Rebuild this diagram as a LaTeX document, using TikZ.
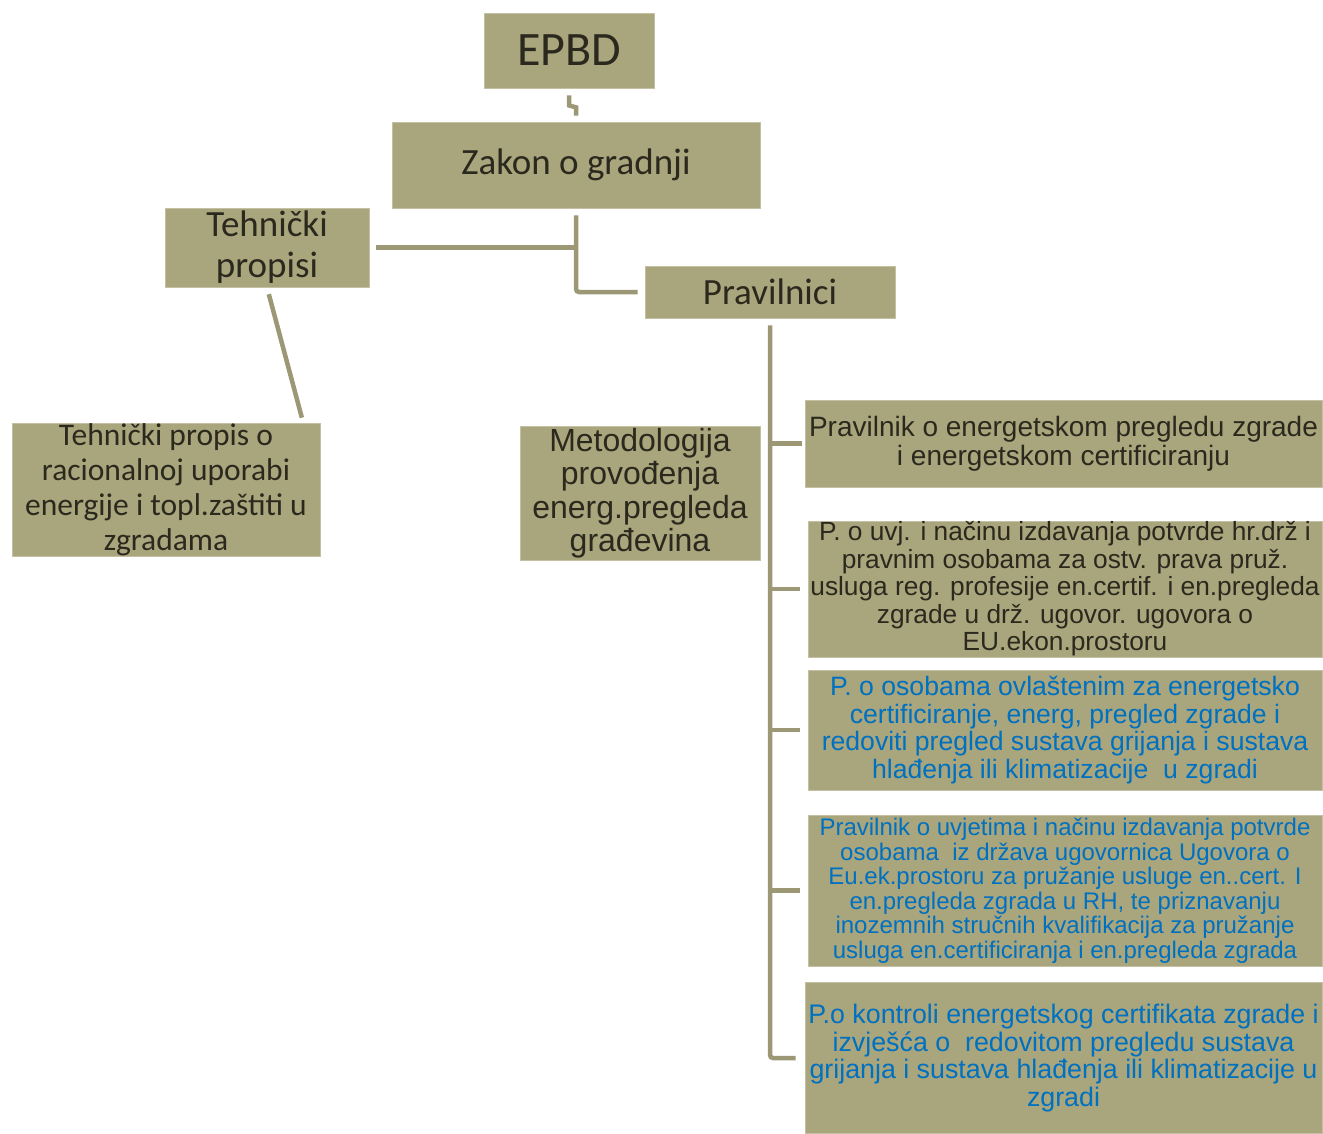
\documentclass[tikz,border=0pt]{standalone}
\usepackage{fontspec}
\setmainfont{Carlito}
\newfontfamily\arialf{Liberation Sans}
\usetikzlibrary{calc}
\definecolor{boxfill}{HTML}{A9A57C}
\definecolor{connc}{HTML}{9C9775}
\definecolor{darktxt}{HTML}{2B291E}
\definecolor{bluetxt}{HTML}{0070C0}
\begin{document}
\begin{tikzpicture}[x=1pt,y=-1pt,
  box/.style={fill=boxfill, draw=boxfill!70!white, line width=0.8pt, inner sep=0pt, align=center, text=darktxt},
  conn/.style={draw=connc, line width=4.5pt}
]
\useasboundingbox (0,0) rectangle (1323,1134);
\node[box, minimum width=170, minimum height=75, font=\fontsize{48}{52}\selectfont] (epbd) at (569,50.5) {EPBD};
\node[box, minimum width=368, minimum height=86, font=\fontsize{37}{40}\selectfont] (zakon) at (576,165) {Zakon o gradnji};
\node[box, minimum width=204, minimum height=79, font=\fontsize{37}{41}\selectfont] (tp) at (267,247.5) {Tehnički\\propisi};
\node[box, minimum width=250, minimum height=52, font=\fontsize{37}{40}\selectfont] (prav) at (770,292) {Pravilnici};
\node[box, minimum width=308, minimum height=128, font=\fontsize{31.5}{35}\selectfont] (tpo) at (166,490)
  {Tehnički propis o\\racionalnoj uporabi\\energije i topl.zaštiti u\\zgradama};
\node[box, minimum width=240, minimum height=134, font=\arialf\fontsize{32}{33.5}\selectfont] (met) at (640,493)
  {Metodologija\\provođenja\\energ.pregleda\\građevina};
\node[box, minimum width=517, minimum height=87, font=\arialf\fontsize{28}{29}\selectfont] (b1) at (1063.5,443.5)
  {Pravilnik o energetskom pregledu zgrade\\i energetskom certificiranju};
\node[box, minimum width=514, minimum height=136, font=\arialf\fontsize{26.3}{27.5}\selectfont] (b2) at (1065,589)
  {P. o uvj. i načinu izdavanja potvrde hr.drž i\\pravnim osobama za ostv. prava pruž.\\usluga reg. profesije en.certif. i en.pregleda\\zgrade u drž. ugovor. ugovora o\\EU.ekon.prostoru};
\node[box, text=bluetxt, minimum width=514, minimum height=120, font=\arialf\fontsize{26.6}{27.5}\selectfont] (b3) at (1065,730)
  {P. o osobama ovlaštenim za energetsko\\certificiranje, energ, pregled zgrade i\\redoviti pregled sustava grijanja i sustava\\hlađenja ili klimatizacije\ \ u zgradi};
\node[box, text=bluetxt, minimum width=514, minimum height=151, font=\arialf\fontsize{24}{24.5}\selectfont] (b4) at (1065,890.5)
  {Pravilnik o uvjetima i načinu izdavanja potvrde\\osobama\ \ iz država ugovornica Ugovora o\\Eu.ek.prostoru za pružanje usluge en..cert. I\\en.pregleda zgrada u RH, te priznavanju\\inozemnih stručnih kvalifikacija za pružanje\\usluga en.certificiranja i en.pregleda zgrada};
\node[box, text=bluetxt, minimum width=517, minimum height=151, font=\arialf\fontsize{26.8}{27.5}\selectfont] (b5) at (1063.5,1058)
  {P.o kontroli energetskog certifikata zgrade i\\izvješća o\ \ redovitom pregledu sustava\\grijanja i sustava hlađenja ili klimatizacije u\\zgradi};
% connectors
\draw[conn, shorten <=7pt, shorten >=6pt] (epbd.south) -- ++(0,17) -- ++(7,2) -- (zakon.north);
\draw[conn, shorten <=7pt, shorten >=7pt, rounded corners=3pt] (zakon.south) |- (prav.west);
\draw[conn, shorten >=7pt] (zakon.south |- tp.east) -- (tp.east);
\draw[conn, shorten <=7pt, shorten >=6pt] (tp.south) -- ($(tpo.north east)+(-17,0)$);
\draw[conn, shorten <=7pt, rounded corners=3pt] (prav.south) |- ($(b5.west)+(-9,0)$);
\draw[conn, shorten >=3pt] (prav.south |- b1.west) -- (b1.west);
\draw[conn, shorten >=8pt] (prav.south |- b2.west) -- (b2.west);
\draw[conn, shorten >=8pt] (prav.south |- b3.west) -- (b3.west);
\draw[conn, shorten >=8pt] (prav.south |- b4.west) -- (b4.west);
\end{tikzpicture}
\end{document}
